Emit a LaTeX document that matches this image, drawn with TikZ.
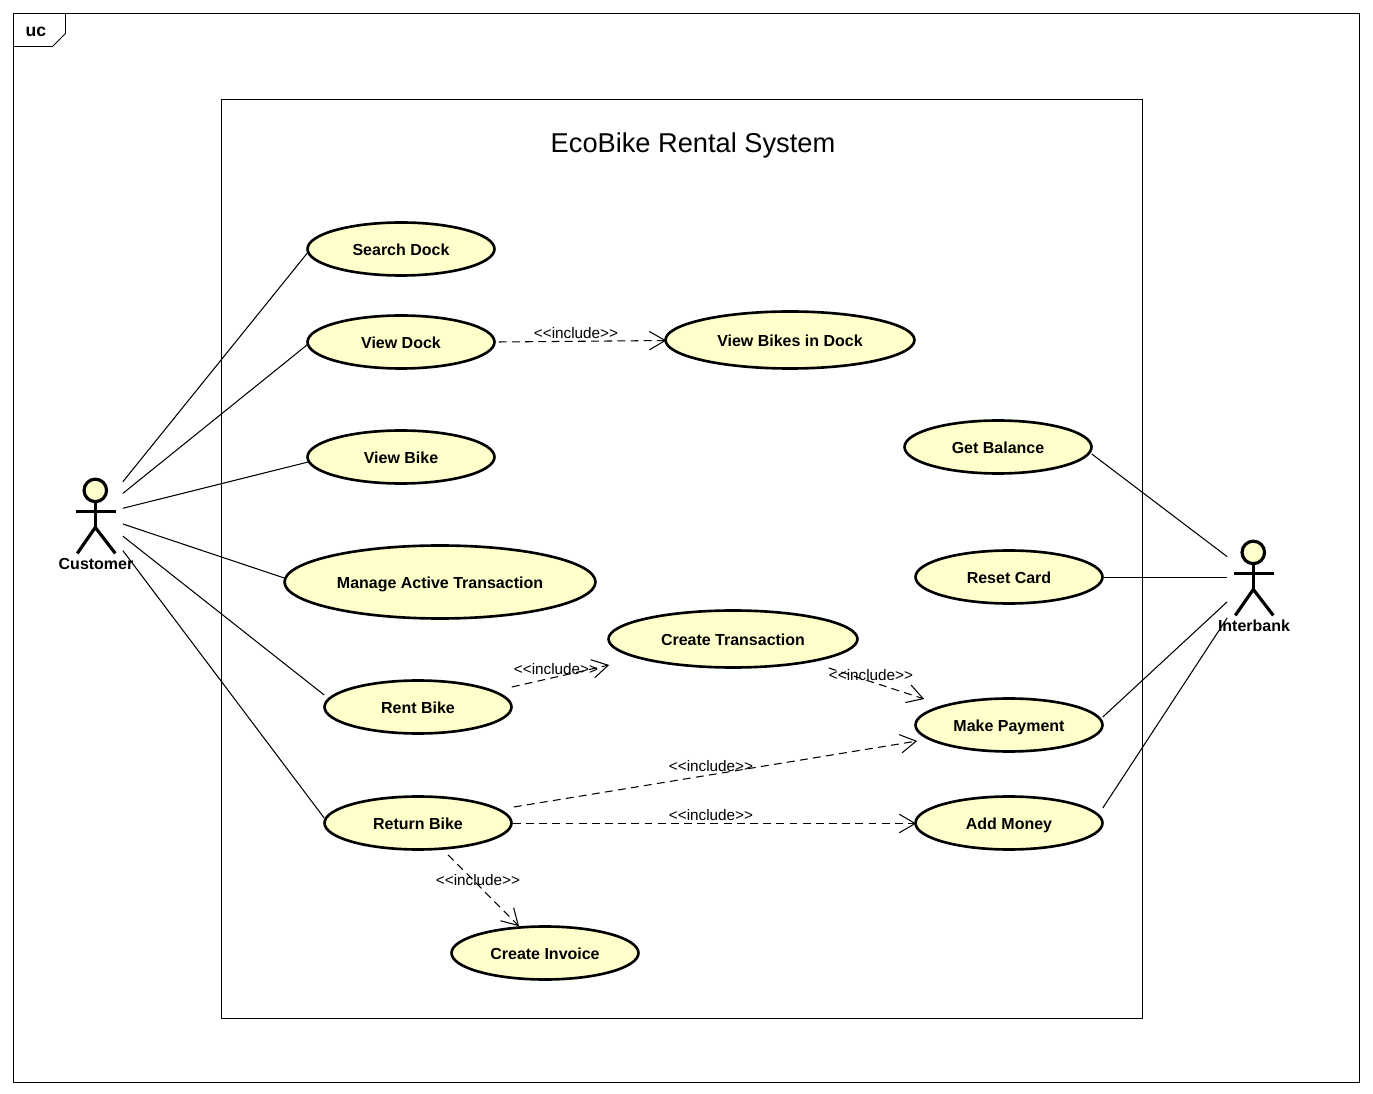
\documentclass[tikz,border=0pt]{standalone}
\usepackage{fontspec}
\setmainfont{Liberation Sans}
\usepackage{xcolor}
\usetikzlibrary{shapes.geometric,positioning,calc,arrows.meta}

\definecolor{ucfill}{HTML}{FFFFCC}
\newcommand{\incltag}{<{}<include>{}>}

\tikzset{
  usecase/.style={ellipse, draw=black, fill=ucfill, line width=1.5pt, inner sep=0pt,
    text height=7.5pt, text depth=0pt,
    minimum width=3.74cm, minimum height=1.06cm, font=\fontsize{9.1}{11}\selectfont\bfseries},
  usecasewide/.style={usecase, minimum width=4.98cm, minimum height=1.14cm},
  actorbox/.style={rectangle, inner sep=0pt, minimum width=1.06cm, minimum height=2.4cm},
  actorname/.style={inner sep=0pt, font=\fontsize{9.1}{11}\selectfont\bfseries},
  thinline/.style={line width=0.55pt},
  assoc/.style={line width=0.6pt},
  incl/.style={line width=0.6pt, dash pattern=on 4.5pt off 3pt,
    -{Straight Barb[length=9pt, width=10.5pt, line width=0.6pt]}},
  incltext/.style={inner sep=0pt, font=\fontsize{8.7}{11}\selectfont}
}

\begin{document}
\begin{tikzpicture}[x=0.02cm, y=-0.02cm]
  \useasboundingbox (0, 0) rectangle (1373, 1094);

  % Frame
  \draw[thinline] (13.5, 13.5) rectangle (1359.5, 1082.5);
  \draw[thinline] (13.5, 46.5) -- (52.5, 46.5) -- (65.5, 33.5) -- (65.5, 13.5);
  \node[actorname, font=\fontsize{10}{12}\selectfont\bfseries] (frametag) at (36, 32) {uc};

  % System boundary
  \draw[thinline] (221.5, 99.5) rectangle (1142.5, 1018.5);
  \node[inner sep=0pt, font=\fontsize{15.5}{18}\selectfont] (systemname) at (693, 145) {EcoBike Rental System};

  % Use cases
  \node[usecase] (searchdock) at (401, 249) {Search Dock};
  \node[usecase] (viewdock) at (401, 342) {View Dock};
  \node[usecasewide] (viewbikes) at (790, 340) {View Bikes in Dock};
  \node[usecase] (viewbike) at (401, 457) {View Bike};
  \node[usecase, minimum width=6.22cm, minimum height=1.46cm] (managetrans) at (440, 582) {Manage Active Transaction};
  \node[usecase] (rentbike) at (418, 707) {Rent Bike};
  \node[usecasewide] (createtrans) at (733, 639) {Create Transaction};
  \node[usecase] (returnbike) at (418, 823) {Return Bike};
  \node[usecase] (createinvoice) at (545, 953) {Create Invoice};
  \node[usecase] (getbalance) at (998, 447) {Get Balance};
  \node[usecase] (resetcard) at (1009, 577) {Reset Card};
  \node[usecase] (makepayment) at (1009, 725) {Make Payment};
  \node[usecase] (addmoney) at (1009, 823) {Add Money};

  % Actors
  \node[actorbox] (customer) at (96, 515) {};
  \node[actorbox] (interbank) at (1254, 577) {};
  \foreach \hx/\hy in {95.3/490.4, 1253.3/552.4} {
    \draw[line width=1.8pt, fill=ucfill] (\hx, \hy) circle (0.225cm); % Head
    \draw[line width=1.8pt] (\hx-19, \hy+21) -- (\hx+21, \hy+21); % Arms
    \draw[line width=1.8pt] (\hx, \hy+12) -- (\hx, \hy+37); % Body
    \draw[line width=1.8pt] (\hx-18, \hy+63) -- (\hx, \hy+37) -- (\hx+20, \hy+63); % Legs
  }
  \node[actorname] (customername) at (96, 564) {Customer};
  \node[actorname] (interbankname) at (1254, 626) {Interbank};

  % Associations
  \draw[assoc] (customer) -- ([shift={(2, 3)}]searchdock.west);
  \draw[assoc] (customer) -- ([shift={(2, 2)}]viewdock.west);
  \draw[assoc] (customer) -- ([shift={(2, 5)}]viewbike.west);
  \draw[assoc] (customer) -- ([shift={(1, -4)}]managetrans.west);
  \draw[assoc] (customer) -- ([shift={(1, -12)}]rentbike.west);
  \draw[assoc] (customer) -- ([shift={(1, -5)}]returnbike.west);
  \draw[assoc] (interbank) -- ([shift={(-1, 7)}]getbalance.east);
  \draw[assoc] ([yshift=-0.01cm]interbank.west) -- ([yshift=-0.01cm]resetcard.east);
  \draw[assoc] (interbank) -- ([shift={(-1, -8)}]makepayment.east);
  \draw[assoc] (interbank) -- ([shift={(-1, -15)}]addmoney.east);

  % Includes
  \draw[incl] ([shift={(3, 0)}]viewdock.east) -- ([shift={(2, 0.5)}]viewbikes.west);
  \node[incltext] (inclviewbikes) at (576, 333) {\incltag};
  \draw[incl] ([shift={(-1, -20)}]rentbike.east) -- ([shift={(2, 26)}]createtrans.west);
  \node[incltext] (inclcreatetrans) at (556, 669) {\incltag};
  \draw[incl] ([shift={(-30, 29)}]createtrans.east) -- ([shift={(10, -26)}]makepayment.west);
  \node[incltext] (inclpayone) at (871, 675) {\incltag};
  \draw[incl] ([shift={(1, -16)}]returnbike.east) -- ([shift={(3, 16)}]makepayment.west);
  \node[incltext] (inclpaytwo) at (711, 766) {\incltag};
  \draw[incl] ([yshift=-0.01cm]returnbike.east) -- ([shift={(2, 0)}, yshift=-0.01cm]addmoney.west);
  \node[incltext] (inclmoney) at (711, 815) {\incltag};
  \draw[incl] ([shift={(30, 4)}]returnbike.south) -- ([shift={(-26, 1)}]createinvoice.north);
  \node[incltext] (inclinvoice) at (478, 880) {\incltag};
\end{tikzpicture}
\end{document}
